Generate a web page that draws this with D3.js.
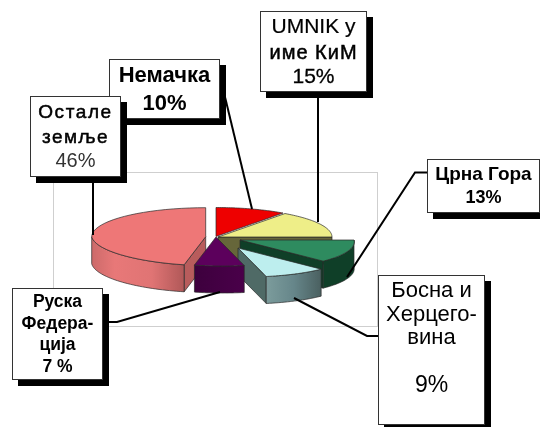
<!DOCTYPE html>
<html><head><meta charset="utf-8">
<script src="https://cdn.jsdelivr.net/npm/d3@7/dist/d3.min.js"></script>
<style>html,body{margin:0;padding:0;background:#fff;overflow:hidden}svg{display:block;filter:blur(.35px)}</style>
</head><body><svg id="c" width="540" height="427"></svg>
<script>
const categories = ["Немачка","UMNIK у име КиМ","Црна Гора","Босна и Херцеговина","Руска Федерација","Остале земље"];
const values = [10,15,13,9,7,46];
const valueLabels = ["10%","15%","13%","9%","7 %","46%"];
const labelLines = [["Немачка"],["UMNIK у","име КиМ"],["Црна Гора"],["Босна и","Херцего-","вина",""],["Руска","Федера-","ција"],["Остале","земље"]];

const rx=114, ry=29, depth=27, frontShift=7;
const centers=[[216,236.5],[218,237],[240,240],[238,248],[216,237],[205.7,236.7]];
const topCol=["#ee0000","#eeee88","#2e8b5f","#bdeeee","#5c005c","#ee7777"];
const sideCol=["#770000","#66663a","#0f3f28","#4f6a66","#400040","#b85c5c"];
const outerFill=[null,null,"#0f3f28","url(#gCyan)","url(#gPurple)","url(#gPink)"];

const svg=d3.select("#c");
const defs=svg.append("defs");
function grad(id,stops){const g=defs.append("linearGradient").attr("id",id);
  stops.forEach(s=>g.append("stop").attr("offset",s[0]).attr("stop-color",s[1]));}
grad("gPink",[[0,"#cc6a6a"],[.25,"#e87878"],[.65,"#e07474"],[1,"#b05858"]]);
grad("gCyan",[[0,"#7c9c9c"],[.5,"#66868a"],[1,"#4a6060"]]);
grad("gPurple",[[0,"#3d003d"],[1,"#4a004a"]]);

svg.append("rect").attr("x",53.5).attr("y",172.5).attr("width",324).attr("height",154)
  .attr("fill","#fff").attr("stroke","#cfcfcf");

const pie=d3.pie().sort(null).value(d=>d)(values);
const pt=(i,a,dz=0)=>{const c=centers[i];
  return [c[0]+rx*Math.sin(a)+frontShift*Math.max(0,-Math.cos(a)), c[1]-ry*Math.cos(a)+dz];};
const line=d3.line();
const arcPts=(i,a0,a1,dz=0)=>d3.range(0,41).map(k=>pt(i,a0+(a1-a0)*k/40,dz));
const g=svg.append("g").attr("stroke","#2a2a2a").attr("stroke-width",.7).attr("stroke-linejoin","round");

function topFace(i){const p=pie[i];
  g.append("path").attr("d",line([centers[i],...arcPts(i,p.startAngle,p.endAngle)])+"Z").attr("fill",topCol[i]);}
function edgeWall(i,a){const c=centers[i],e=pt(i,a);
  g.append("path").attr("d",line([c,e,[e[0],e[1]+depth],[c[0],c[1]+depth]])+"Z").attr("fill",sideCol[i]);}
function outerWall(i){const p=pie[i];
  const a0=Math.max(p.startAngle,Math.PI/2),a1=Math.min(p.endAngle,Math.PI*1.5);
  g.append("path").attr("d",line([...arcPts(i,a0,a1),...arcPts(i,a1,a0,depth)])+"Z").attr("fill",outerFill[i]);}

edgeWall(5,pie[5].startAngle); outerWall(5); topFace(5);
edgeWall(1,pie[1].endAngle); topFace(0); topFace(1);
edgeWall(2,pie[2].endAngle); outerWall(2); topFace(2);
edgeWall(3,pie[3].endAngle); outerWall(3); topFace(3);
outerWall(4); topFace(4);

const leaders=[[[225,97],[252,209]],[[318,92],[318,222]],[[427,172.5],[415,172.5],[347,277]],
  [[378,336],[367,336],[294,298]],[[103,322],[117,322],[220,292]],[[93,177],[93,235]]];
svg.append("g").selectAll("path").data(leaders).join("path").attr("d",d=>line(d))
  .attr("fill","none").attr("stroke","#000").attr("stroke-width",2);

const boxes=[[109,59,111,60],[260,11,107,81],[427,159,113,54],[378,275,107,150],[12,288,91,92],[30,96,91,81]];
// per-row: size, weight, letter spacing, outline
const R=(f,w,ls,sw)=>({f,w,ls,sw});
const rowStyle=[
 [R(22,"bold",0,0),R(22,"bold",0,0)],
 [R(21,"normal",0,.2),R(20,"normal",1,.5),R(21,"normal",0,.3)],
 [R(19,"bold",0,0),R(18,"bold",0,0)],
 [R(22,"normal",0,0),R(22,"normal",0,0),R(22,"normal",0,0),R(22,"normal",0,0),R(23,"normal",0,0)],
 [R(17.5,"bold",0,0),R(17.5,"bold",0,0),R(17.5,"bold",0,0),R(17.5,"bold",0,0)],
 [R(19,"normal",1.6,.5),R(19,"normal",1.4,.5),R(20,"normal",0,0)]];
const rowY=[[82,110],[33,59,83],[180,203],[296.7,320.5,344,368,391.7],[307,329,350,372],[118,142.7,167]];

categories.forEach((c,i)=>{const b=boxes[i];
  svg.append("rect").attr("x",b[0]+6).attr("y",b[1]+6).attr("width",b[2]).attr("height",b[3]).attr("fill","#000");
  svg.append("rect").attr("x",b[0]+.5).attr("y",b[1]+.5).attr("width",b[2]-1).attr("height",b[3]-1)
    .attr("fill","#fff").attr("stroke","#333").attr("stroke-width",1);
  const rows=[...labelLines[i],valueLabels[i]];
  const t=svg.append("text").attr("text-anchor","middle").attr("font-family","'Liberation Sans',Arial,sans-serif");
  rows.forEach((r,k)=>{const s=rowStyle[i][k];
    t.append("tspan").attr("x",b[0]+b[2]/2).attr("y",rowY[i][k])
     .attr("font-size",s.f).attr("font-weight",s.w).attr("letter-spacing",s.ls)
     .attr("stroke",s.sw?"#000":"none").attr("stroke-width",s.sw)
     .attr("fill",(i===5&&k===2)?"#333":"#000").text(r);});
});
</script></body></html>
